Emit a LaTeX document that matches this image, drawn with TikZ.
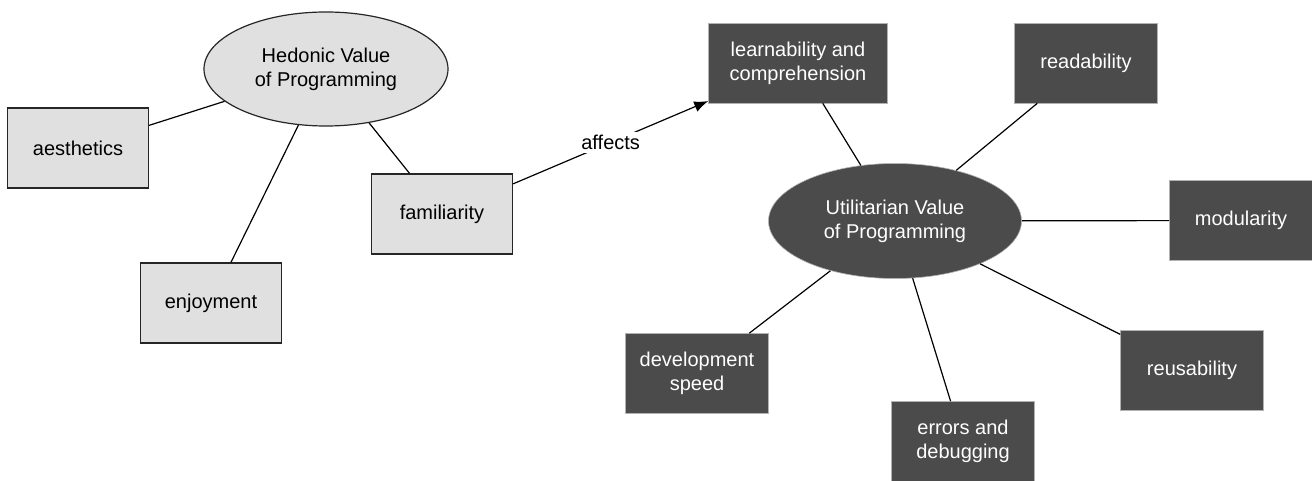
\documentclass[tikz,border=0pt]{standalone}
\usepackage{fontspec}
\setmainfont{Liberation Sans}
\usetikzlibrary{shapes.geometric,arrows.meta}
\definecolor{lightfill}{HTML}{E0E0E0}
\definecolor{darkfill}{HTML}{4B4B4B}
\begin{document}
\begin{tikzpicture}[x=1pt,y=-1pt,
  every node/.style={font=\fontsize{20}{24}\selectfont, align=center, inner sep=0pt},
  lightbox/.style={rectangle, fill=lightfill, draw=black!85, line width=1.2pt, minimum width=141pt, minimum height=80pt},
  darkbox/.style={rectangle, fill=darkfill, draw=black!30, line width=0.6pt, text=white, minimum width=143pt, minimum height=80pt},
  lightell/.style={ellipse, fill=lightfill, draw=black!85, line width=1.2pt, minimum width=244pt, minimum height=114pt},
  darkell/.style={ellipse, fill=darkfill, draw=black!30, line width=0.6pt, text=white, minimum width=253pt, minimum height=115pt},
  link/.style={draw=black, line width=1.2pt}
]
\useasboundingbox (0,0) rectangle (1312,481);
\fill[white] (0,0) rectangle (1312,481);
% hedonic side
\node[lightell] (hed) at (326,69) {Hedonic Value\\of Programming};
\node[lightbox] (aes) at (78,148) {aesthetics};
\node[lightbox] (enj) at (211,303) {enjoyment};
\node[lightbox] (fam) at (442,214) {familiarity};
% utilitarian side
\node[darkell] (uti) at (895,221) {Utilitarian Value\\of Programming};
\node[darkbox, minimum width=179pt] (lea) at (798,63) {learnability and\\comprehension};
\node[darkbox] (rea) at (1086,63) {readability};
\node[darkbox] (mod) at (1241,220.5) {modularity};
\node[darkbox] (reu) at (1192,370.5) {reusability};
\node[darkbox] (err) at (963,441.5) {errors and\\debugging};
\node[darkbox] (dev) at (697,373.5) {development\\speed};
% connectors
\begin{scope}[on background layer/.style={}]
\end{scope}
\draw[link] (aes) -- (hed);
\draw[link] (enj) -- (hed);
\draw[link] (fam) -- (hed);
\draw[link] (lea) -- (uti);
\draw[link] (rea) -- (uti);
\draw[link] (mod) -- (uti);
\draw[link] (reu) -- (uti);
\draw[link] (err) -- (uti);
\draw[link] (dev) -- (uti);
\draw[link, -{Latex[length=14pt,width=11pt]}] (fam) -- node[fill=white, inner sep=3pt] (aff) {affects} (lea);
\end{tikzpicture}
\end{document}
